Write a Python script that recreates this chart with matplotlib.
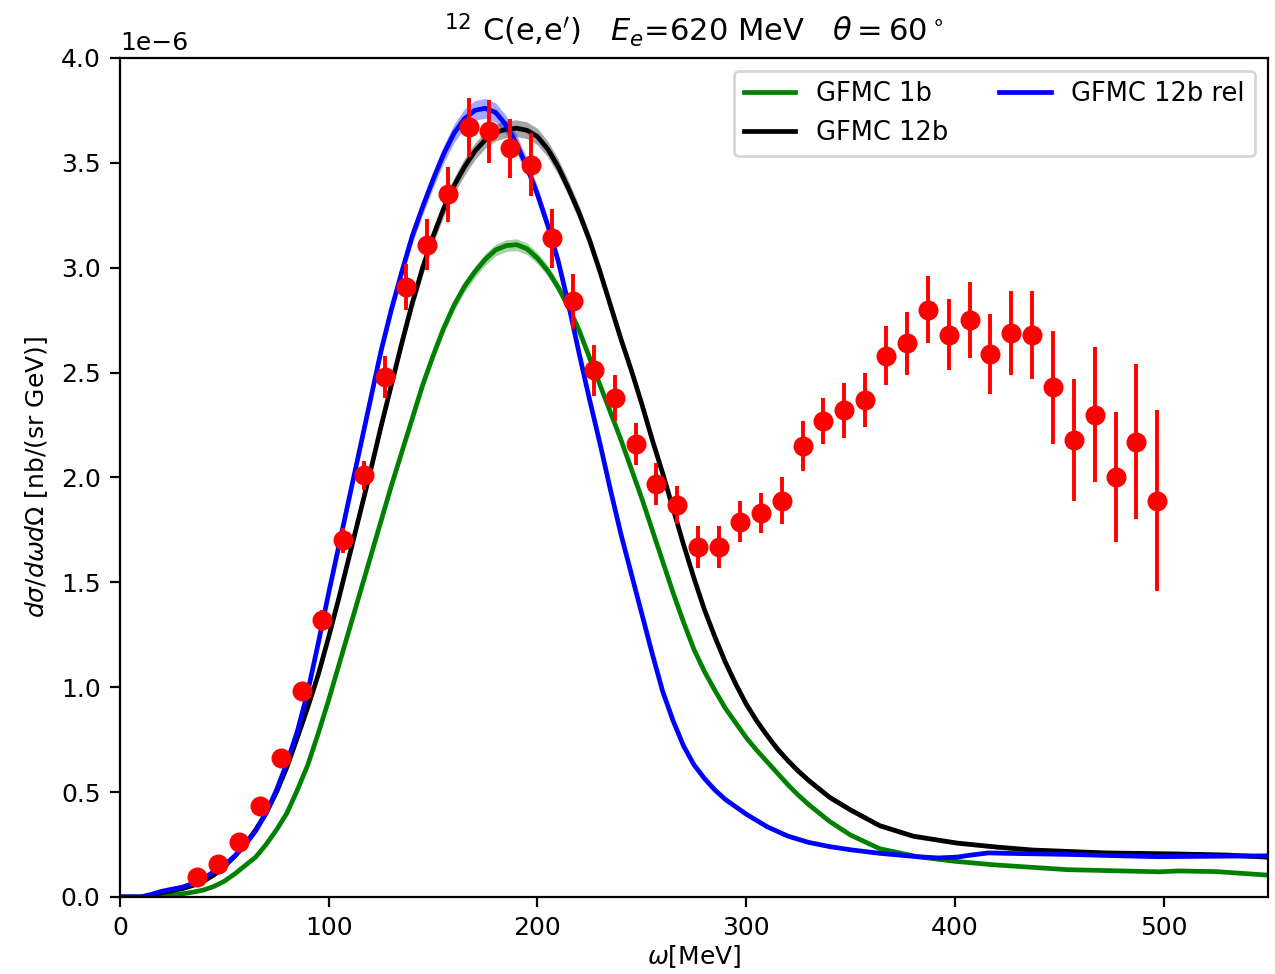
import numpy as np
import matplotlib
matplotlib.use("Agg")
import matplotlib.pyplot as plt

SCALE = 1e-6

# ---- experimental data (omega [MeV], value [1e-6], error [1e-6]) ----
exp_w = [37, 47, 57, 67, 77, 87, 97, 107, 117, 127, 137, 147, 157, 167, 177, 187,
         197, 207, 217, 227, 237, 247, 257, 267, 277, 287, 297, 307, 317, 327, 337,
         347, 357, 367, 377, 387, 397, 407, 417, 427, 437, 447, 457, 467, 477, 487, 497]
exp_y = [0.095, 0.157, 0.262, 0.434, 0.663, 0.982, 1.32, 1.70, 2.01, 2.48, 2.91, 3.11,
         3.35, 3.67, 3.65, 3.57, 3.49, 3.14, 2.84, 2.51, 2.38, 2.16, 1.97, 1.87, 1.67,
         1.67, 1.79, 1.83, 1.89, 2.15, 2.27, 2.32, 2.37, 2.58, 2.64, 2.80, 2.68, 2.75,
         2.59, 2.69, 2.68, 2.43, 2.18, 2.30, 2.00, 2.17, 1.89]
exp_err = [0.02, 0.02, 0.03, 0.03, 0.04, 0.04, 0.05, 0.06, 0.07, 0.10, 0.11, 0.12,
           0.13, 0.14, 0.15, 0.14, 0.15, 0.14, 0.13, 0.12, 0.11, 0.10, 0.10, 0.09, 0.10,
           0.10, 0.10, 0.095, 0.11, 0.12, 0.11, 0.13, 0.13, 0.14, 0.15, 0.16, 0.17, 0.18,
           0.19, 0.20, 0.21, 0.27, 0.29, 0.32, 0.31, 0.37, 0.43]

# ---- GFMC 1b (green) ----
g_w = [0, 5, 10, 15, 20, 25, 30, 35, 40, 45, 50, 55, 60, 65, 70, 75, 80, 85, 90, 95,
       100, 105, 110, 115, 120, 125, 130, 135, 140, 145, 150, 155, 160, 165, 170, 175,
       180, 185, 190, 195, 200, 205, 210, 215, 220, 225, 230, 235, 240, 245, 250, 255,
       260, 265, 270, 275, 280, 285, 290, 295, 300, 305, 310, 315, 320, 325, 330,
       340, 350, 364, 382, 400, 419, 454, 498, 507, 525, 550]
g_y = [0.0, 0.0, 0.0, 0.0, 0.004, 0.009, 0.015, 0.023, 0.033, 0.05, 0.075, 0.11, 0.15,
       0.19, 0.25, 0.32, 0.40, 0.51, 0.63, 0.78, 0.94, 1.11, 1.28, 1.45, 1.62, 1.79,
       1.96, 2.12, 2.28, 2.44, 2.58, 2.71, 2.82, 2.91, 2.98, 3.04, 3.085, 3.105, 3.11,
       3.09, 3.045, 2.985, 2.905, 2.81, 2.70, 2.57, 2.44, 2.31, 2.18, 2.04, 1.90, 1.75,
       1.60, 1.45, 1.31, 1.18, 1.075, 0.985, 0.90, 0.83, 0.76, 0.70, 0.645, 0.59, 0.535,
       0.485, 0.44,
       0.36, 0.295, 0.23, 0.192, 0.17, 0.153, 0.13, 0.12, 0.124, 0.121, 0.104]
g_band = ([0.0, 0.0, 0.0, 0.0]
          + [0.002, 0.0025, 0.003, 0.0035, 0.004, 0.0045, 0.005, 0.0055, 0.006]
          + [0.007, 0.008, 0.009, 0.010, 0.011, 0.012, 0.013, 0.014, 0.015]
          + [0.016, 0.017, 0.018, 0.019, 0.020, 0.021, 0.022, 0.023, 0.024]
          + [0.025, 0.026, 0.027, 0.028, 0.028, 0.028, 0.028, 0.028, 0.028]
          + [0.027, 0.026, 0.025, 0.024, 0.023, 0.022, 0.021, 0.021, 0.020]
          + [0.019, 0.018, 0.017, 0.016, 0.015, 0.014, 0.013, 0.013, 0.012]
          + [0.011, 0.011, 0.010, 0.010, 0.009, 0.009, 0.008, 0.008, 0.007]
          + [0.006, 0.006, 0.006, 0.005, 0.005, 0.005, 0.005, 0.005, 0.005, 0.005, 0.005])

# ---- GFMC 12b (black) ----
k_w = [0, 5, 10, 15, 20, 25, 30, 35, 40, 45, 50, 55, 60, 65, 70, 75, 80, 85, 90, 95,
       100, 105, 110, 115, 120, 125, 130, 135, 140, 145, 150, 155, 160, 165, 170, 175,
       180, 185, 190, 195, 200, 205, 210, 215, 220, 225, 230, 235, 240, 245, 250, 255,
       260, 265, 270, 275, 280, 285, 290, 295, 300, 305, 310, 315, 320, 325, 330,
       340, 350, 364, 380, 401, 420, 437, 472, 507, 530, 550]
k_y = [0.0, 0.0, 0.0, 0.008, 0.02, 0.03, 0.04, 0.055, 0.075, 0.105, 0.145, 0.195, 0.25,
       0.32, 0.40, 0.50, 0.62, 0.76, 0.905, 1.06, 1.24, 1.43, 1.63, 1.83, 2.03, 2.24,
       2.44, 2.64, 2.83, 3.00, 3.15, 3.28, 3.39, 3.48, 3.555, 3.61, 3.645, 3.66, 3.665,
       3.655, 3.625, 3.565, 3.48, 3.375, 3.26, 3.13, 2.98, 2.82, 2.66, 2.51, 2.35, 2.18,
       2.02, 1.85, 1.68, 1.52, 1.37, 1.24, 1.12, 1.015, 0.92, 0.84, 0.77, 0.705, 0.65,
       0.60, 0.555,
       0.475, 0.415, 0.34, 0.29, 0.257, 0.238, 0.224, 0.21, 0.205, 0.20, 0.19]
k_band = ([0.0, 0.0, 0.0]
          + [0.003, 0.004, 0.005, 0.006, 0.006, 0.007, 0.008, 0.009, 0.010]
          + [0.011, 0.012, 0.013, 0.014, 0.015, 0.016, 0.017, 0.018, 0.020]
          + [0.022, 0.024, 0.026, 0.028, 0.030, 0.031, 0.033, 0.034, 0.036]
          + [0.037, 0.038, 0.039, 0.040, 0.040, 0.040, 0.040, 0.040, 0.040]
          + [0.040, 0.039, 0.038, 0.037, 0.036, 0.035, 0.034, 0.033, 0.032]
          + [0.030, 0.029, 0.028, 0.027, 0.026, 0.025, 0.024, 0.023, 0.022]
          + [0.021, 0.020, 0.020, 0.019, 0.018, 0.018, 0.017, 0.016, 0.016, 0.015]
          + [0.014, 0.013, 0.012, 0.011, 0.010, 0.010, 0.010, 0.010, 0.010, 0.010, 0.010])

# ---- GFMC 12b rel (blue) ----
b_w = [0, 5, 10, 15, 20, 25, 30, 35, 40, 45, 50, 55, 60, 65, 70, 75, 80, 85, 90, 95,
       100, 105, 110, 115, 120, 125, 130, 135, 140, 145, 150, 155, 160, 165, 170, 175,
       180, 185, 190, 195, 200, 205, 210, 215, 220, 225, 230, 235, 240, 245, 250, 255,
       260, 265, 270, 275, 280, 285, 290, 295, 300,
       310, 320, 330, 340, 350, 364, 382, 392, 401, 408, 416, 430, 454, 480, 498, 520, 550]
b_y = [0.0, 0.0, 0.0, 0.012, 0.027, 0.037, 0.047, 0.065, 0.089, 0.12, 0.152, 0.195, 0.25,
       0.315, 0.40, 0.51, 0.64, 0.79, 0.98, 1.21, 1.45, 1.68, 1.91, 2.14, 2.37, 2.60,
       2.80, 2.98, 3.15, 3.29, 3.42, 3.54, 3.64, 3.71, 3.75, 3.76, 3.74, 3.68, 3.59,
       3.48, 3.35, 3.20, 3.03, 2.82, 2.59, 2.37, 2.16, 1.94, 1.73, 1.54, 1.35, 1.16,
       0.98, 0.84, 0.72, 0.63, 0.565, 0.51, 0.465, 0.43, 0.395,
       0.335, 0.29, 0.26, 0.24, 0.225, 0.208, 0.192, 0.186, 0.19, 0.20, 0.21, 0.207,
       0.203, 0.196, 0.192, 0.194, 0.196]
b_band = ([0.0, 0.0, 0.0]
          + [0.003, 0.004, 0.004, 0.005, 0.006, 0.007, 0.008, 0.009, 0.010]
          + [0.011, 0.012, 0.013, 0.014, 0.015, 0.016, 0.017, 0.018, 0.020]
          + [0.022, 0.024, 0.026, 0.028, 0.030, 0.032, 0.034, 0.036, 0.038]
          + [0.040, 0.042, 0.044, 0.046, 0.047, 0.047, 0.046, 0.045, 0.043]
          + [0.040, 0.037, 0.034, 0.031, 0.028, 0.026, 0.024, 0.022, 0.020]
          + [0.018, 0.017, 0.016, 0.015, 0.014, 0.013, 0.012, 0.011, 0.010]
          + [0.010, 0.009, 0.009, 0.008]
          + [0.008, 0.007, 0.007, 0.007, 0.007]
          + [0.007, 0.007, 0.007, 0.007, 0.007, 0.007, 0.007, 0.007, 0.007, 0.007, 0.007, 0.007])


def arr(v):
    return np.asarray(v, dtype=float) * SCALE


plt.rcParams["font.family"] = ["DejaVu Sans"]
plt.rcParams["font.size"] = 9

fig = plt.figure(figsize=(6.375, 4.87), dpi=200)
ax = fig.add_axes([0.0941, 0.0791, 0.9004, 0.8614])

series = [
    (g_w, g_y, g_band, "green", "GFMC 1b"),
    (k_w, k_y, k_band, "black", "GFMC 12b"),
    (b_w, b_y, b_band, "blue", "GFMC 12b rel"),
]
for w, y, band, col, lab in series:
    w = np.asarray(w, dtype=float)
    y = arr(y)
    bd = arr(band)
    ax.fill_between(w, y - bd, y + bd, color=col, alpha=0.35, linewidth=0)
    ax.plot(w, y, color=col, lw=1.7, label=lab)

ax.errorbar(exp_w, arr(exp_y), yerr=arr(exp_err), fmt="o", color="red",
            ms=6.2, elinewidth=1.4, capsize=0, zorder=5)

ax.set_xlim(0, 550)
ax.set_ylim(0, 4e-6)
ax.set_xlabel(r"$\omega$[MeV]", labelpad=1)
ax.set_ylabel(r"$d\sigma/d\omega d\Omega$ [nb/(sr GeV)]")
ax.set_title(r"$^{12}$ C(e,e$'$)   $E_e$=620 MeV   $\theta=60^\circ$", fontsize=11)
ax.legend(loc="upper right", ncol=2, fontsize=9.25)

fig.savefig("out.png", dpi=200)
